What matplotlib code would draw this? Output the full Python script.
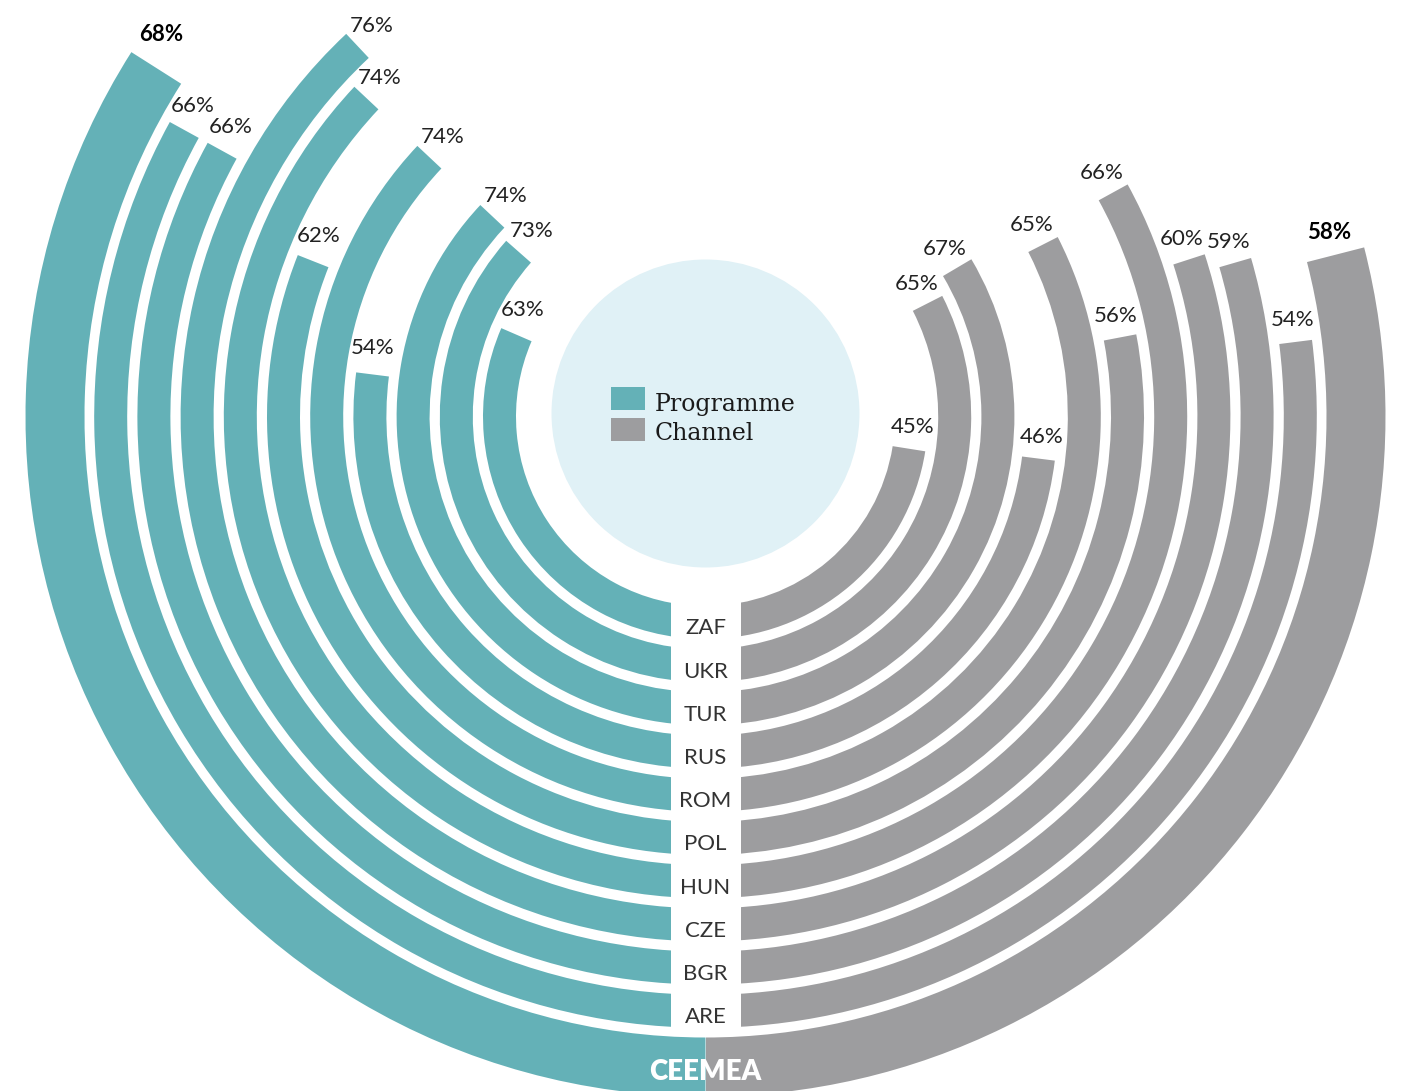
import numpy as np
import matplotlib.pyplot as plt
from matplotlib.patches import Wedge, Rectangle, Circle

# rings from the inside out; the last one is the regional total
countries = ["ZAF", "UKR", "TUR", "RUS", "ROM", "POL", "HUN", "CZE", "BGR", "ARE", "CEEMEA"]
programme = [63, 73, 74, 54, 74, 62, 74, 76, 66, 66, 68]
channel = [45, 65, 67, 46, 65, 56, 66, 60, 59, 54, 58]

TEAL = "#64b1b7"
GREY = "#9d9d9f"
PALE = "#e0f1f6"
INK = "#222222"

plt.rcParams["font.family"] = ["Lato", "DejaVu Sans"]

W, H = 1404, 1091
cx, cy = 705.5, 416.5  # ring centre in pixels, axes use pixel units

fig = plt.figure(figsize=(W / 100, H / 100), dpi=100)
ax = fig.add_axes([0, 0, 1, 1])
ax.set_xlim(-cx, W - cx)
ax.set_ylim(cy - H, cy)
ax.set_aspect("equal")
ax.axis("off")

n = len(countries)
inner = [189.5 + 43.2 * i for i in range(n - 1)] + [621]
width = [33] * (n - 1) + [59]
col = 35  # half width of the country label column


def put(x, y, s, size=16, **kw):
    # y is the visual centre of the capitals
    ax.text(x, y - size * 100 / 72 * 0.36, s, ha="center", va="baseline",
            fontsize=size, **kw)


ax.add_patch(Circle((0, 3), 154, facecolor=PALE, lw=0))

for i, name in enumerate(countries):
    r0, w = inner[i], width[i]
    rm = r0 + w / 2
    total = i == n - 1
    cut = 0 if total else col
    weight = "bold" if total else "normal"
    colour = "black" if total else INK

    # programme share, sweeping clockwise from the bottom
    a = 270 - 1.8 * programme[i]
    wl = Wedge((0, 0), r0 + w, a, 270, width=w, facecolor=TEAL, lw=0)
    ax.add_patch(wl)
    wl.set_clip_path(Rectangle((-2000, -2000), 2000 - cut, 4000, transform=ax.transData))
    t = np.radians(a)
    if total:
        tx, ty = rm * np.cos(t) + 5, rm * np.sin(t) + 35
    else:
        tx = rm * np.cos(t) + 24 * np.sin(t) - 3
        ty = rm * np.sin(t) - 24 * np.cos(t) + 5
    put(tx, ty, f"{programme[i]}%", color=colour, fontweight=weight)

    # channel share, sweeping anticlockwise from the bottom
    b = -90 + 1.8 * channel[i]
    wr = Wedge((0, 0), r0 + w, -90, b, width=w, facecolor=GREY, lw=0)
    ax.add_patch(wr)
    wr.set_clip_path(Rectangle((cut, -2000), 2000, 4000, transform=ax.transData))
    t = np.radians(b)
    tx = rm * np.cos(t) - 24 * np.sin(t)
    ty = rm * np.sin(t) + 24 * np.cos(t)
    put(tx, ty, f"{channel[i]}%", color=colour, fontweight=weight)

    if total:
        put(0, -(rm + 3.5), name, size=20, color="white", fontweight="heavy")
    else:
        put(0, -(rm + 4), name, color="#333333")

# legend in the middle of the ring
ax.add_patch(Rectangle((-95, 6.5), 34.5, 23.3, facecolor=TEAL, lw=0))
ax.add_patch(Rectangle((-95, -24.2), 34.5, 22.7, facecolor=GREY, lw=0))
ax.text(-50.5, 14.8 - 8.8, "Programme", fontsize=17, family="DejaVu Serif",
        color="#1a1a1a", va="baseline")
ax.text(-50.5, -15.2 - 8.8, "Channel", fontsize=17, family="DejaVu Serif",
        color="#1a1a1a", va="baseline")

fig.savefig("out.png", dpi=100)
